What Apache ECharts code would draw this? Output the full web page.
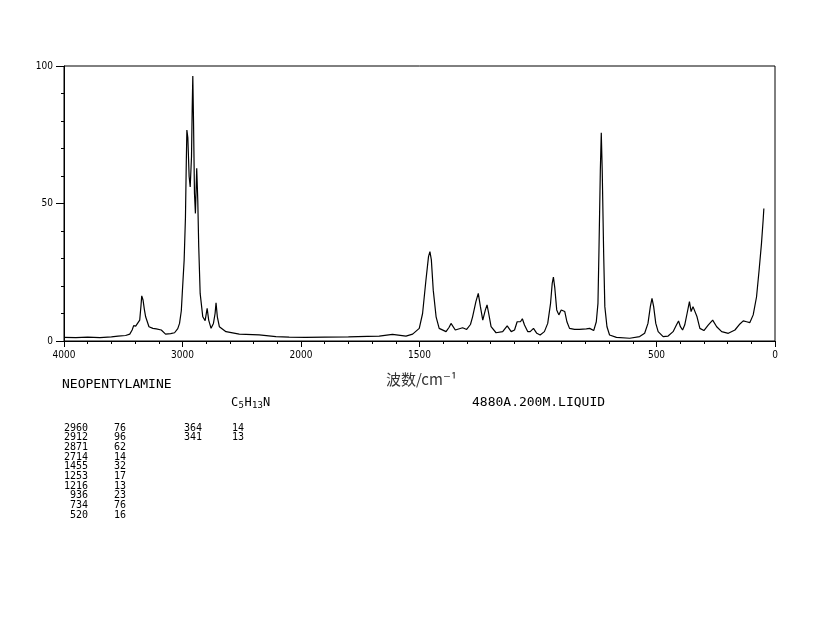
<!DOCTYPE html>
<html>
<head>
<meta charset="utf-8">
<script src="https://cdn.jsdelivr.net/npm/echarts@6.0.0/dist/echarts.min.js"></script>
<style>html,body{margin:0;padding:0;background:#fff;}#c{width:822px;height:624px;}</style>
</head>
<body>
<div id="c"></div>
<script>
// Raman shift (cm-1) and relative intensity (%)
const wavenumbers = [4000,3900,3800,3697,3600,3544,3480,3445,3425,3412,3395,3384,3361,3350,3344,3333,3322,3311,3283,3250,3221,3179,3143,3100,3067,3040,3025,3010,3002,2986,2975,2968,2963,2955,2944,2935,2924,2918,2913,2907,2899,2891,2880,2871,2863,2851,2829,2809,2792,2779,2759,2739,2725,2717,2706,2689,2633,2521,2353,2212,2100,1980,1900,1800,1720,1670,1614,1557,1529,1501,1487,1473,1462,1456,1450,1442,1430,1417,1388,1375,1367,1349,1318,1301,1285,1276,1262,1252,1243,1233,1222,1215,1208,1198,1177,1149,1130,1113,1099,1088,1081,1074,1066,1057,1043,1033,1019,1005,991,973,959,947,940,935,929,921,912,902,895,887,878,867,846,825,796,782,765,754,747,743,737,733,729,723,718,709,698,669,613,571,550,536,526,519,512,503,493,472,451,430,416,407,399,390,381,371,361,354,346,338,329,317,300,282,263,246,225,197,169,148,134,120,106,92,78,67,57,50,47];
const intensities = [1.3,1.2,1.4,1.2,1.5,1.8,2.0,2.5,4.0,5.6,5.4,5.2,7.6,13,16.4,14.9,11.5,8.8,5.2,4.6,4.4,4.0,2.5,2.7,3.0,4.5,6.4,11,17.3,29.5,45,65,76.7,74,59.8,56,67,85,96.4,80,53.7,46.4,62.8,51,34.3,17.3,8.8,7.4,11.9,7.6,4.6,6.4,10,13.9,8.8,5.2,3.4,2.5,2.2,1.6,1.4,1.3,1.4,1.5,1.7,1.8,2.4,1.8,2.5,4.6,10,22,30.7,32.5,29.5,18.5,8.8,4.6,3.4,5.0,6.4,4.0,4.8,4.2,6.0,8.8,14.3,17.3,12.5,7.6,11.3,13.1,10,5.2,3.0,3.4,5.5,3.4,4.0,7.0,7.6,7.0,8.1,5.8,3.4,3.4,4.6,2.8,2.2,3.4,6.4,13.7,21,23.2,19.2,11.3,9.5,11.3,11.9,10.7,7.0,4.6,4.2,4.2,4.4,4.6,3.8,7.0,13.7,31.9,62,75.7,62,31.9,12.5,5.2,2.2,1.3,1.0,1.6,2.8,6.4,12.5,15.5,12.5,6.4,3.4,1.6,1.8,3.4,5.8,7.3,5.2,4.0,5.8,10,14.3,10.7,12.5,13.1,8.8,4.6,3.8,5.8,7.6,5.2,3.4,2.8,4.0,6.2,7.3,7.0,6.7,9.5,16,25.8,35.5,44,48.2];

const xTickLabels = [4000, 3000, 2000, 1500, 500, 0];
const yTickLabels = [0, 50, 100];

const peakShift = ['2960','2912','2871','2714','1455','1253','1216','936','734','520'];
const peakInt   = ['76','96','62','14','32','17','13','23','76','16'];
const peakShift2 = ['364','341'];
const peakInt2   = ['14','13'];

// axis scale: 4000-2000 at half scale, 2000-0 at full scale
function toAxis(w){ return w >= 2000 ? (4000 - w) / 2 : 1000 + (2000 - w); }
function fromAxis(u){ return u <= 1000 ? 4000 - 2 * u : 2000 - (u - 1000); }

const seriesData = wavenumbers.map((w, i) => [toAxis(w), intensities[i]]);
const xMajor = xTickLabels.map(toAxis);

const pixFont = "'Liberation Sans Narrow','DejaVu Sans Condensed',sans-serif";
const monoFont = "'DejaVu Sans Mono','Liberation Mono',monospace";

const graphics = [];
graphics.push({type:'text', x:62, y:385, style:{text:'NEOPENTYLAMINE', font:"13px " + monoFont, fill:'#000', verticalAlign:'middle'}});
// formula C5H13N with subscripts
graphics.push({type:'text', x:231, y:403, style:{text:'C', font:"12px " + monoFont, fill:'#000', verticalAlign:'middle'}});
graphics.push({type:'text', x:238.5, y:406, style:{text:'5', font:"9px " + monoFont, fill:'#000', verticalAlign:'middle'}});
graphics.push({type:'text', x:244.5, y:403, style:{text:'H', font:"12px " + monoFont, fill:'#000', verticalAlign:'middle'}});
graphics.push({type:'text', x:252, y:406, style:{text:'13', font:"9px " + monoFont, fill:'#000', verticalAlign:'middle'}});
graphics.push({type:'text', x:263, y:403, style:{text:'N', font:"12px " + monoFont, fill:'#000', verticalAlign:'middle'}});
graphics.push({type:'text', x:472, y:403, style:{text:'4880A.200M.LIQUID', font:"13px " + monoFont, fill:'#000', verticalAlign:'middle'}});
graphics.push({type:'text', x:386, y:379, style:{text:'波数/cm⁻¹', font:"15px 'Noto Sans CJK SC','DejaVu Serif',serif", fill:'#333', verticalAlign:'middle'}});

const rowStart = 428, rowStep = 9.7, tFont = "10px " + monoFont;
peakShift.forEach((s, i) => {
  graphics.push({type:'text', x:88, y:rowStart + i*rowStep, style:{text:s, font:tFont, fill:'#000', align:'right', verticalAlign:'middle'}});
  graphics.push({type:'text', x:126, y:rowStart + i*rowStep, style:{text:peakInt[i], font:tFont, fill:'#000', align:'right', verticalAlign:'middle'}});
});
peakShift2.forEach((s, i) => {
  graphics.push({type:'text', x:202, y:rowStart + i*rowStep, style:{text:s, font:tFont, fill:'#000', align:'right', verticalAlign:'middle'}});
  graphics.push({type:'text', x:244, y:rowStart + i*rowStep, style:{text:peakInt2[i], font:tFont, fill:'#000', align:'right', verticalAlign:'middle'}});
});

const chart = echarts.init(document.getElementById('c'), null, {renderer:'canvas'});
chart.setOption({
  animation:false,
  backgroundColor:'#fff',
  grid:{left:64, right:47, top:66, bottom:283, show:true, borderColor:'#000', borderWidth:1, backgroundColor:'transparent'},
  xAxis:[{
    type:'value', min:0, max:3000, position:'bottom',
    axisLine:{show:true, onZero:false, lineStyle:{color:'#000', width:1}},
    axisTick:{show:true, customValues:xMajor, length:6, lineStyle:{color:'#000'}},
    axisLabel:{show:true, customValues:xMajor, margin:9, color:'#000', fontSize:10, fontFamily:pixFont, formatter:(u)=>String(fromAxis(u))},
    splitLine:{show:false}
  },{
    type:'value', min:0, max:3000, interval:100, position:'bottom',
    axisLine:{show:false}, axisTick:{show:true, length:3, lineStyle:{color:'#000'}},
    axisLabel:{show:false}, splitLine:{show:false}
  }],
  yAxis:{
    type:'value', min:0, max:100, interval:50,
    axisLine:{show:true, lineStyle:{color:'#000'}},
    axisTick:{show:true, length:8, lineStyle:{color:'#000'}},
    minorTick:{show:true, splitNumber:5, length:3, lineStyle:{color:'#000'}},
    axisLabel:{margin:11, color:'#000', fontSize:10, fontFamily:pixFont, formatter:(v)=> yTickLabels.includes(v) ? String(v) : ''},
    splitLine:{show:false}, minorSplitLine:{show:false}
  },
  series:[{
    type:'line', xAxisIndex:0, data:seriesData, showSymbol:false, symbol:'none',
    lineStyle:{color:'#000', width:1.2}, silent:true
  }],
  graphic:graphics
});
</script>
</body>
</html>
